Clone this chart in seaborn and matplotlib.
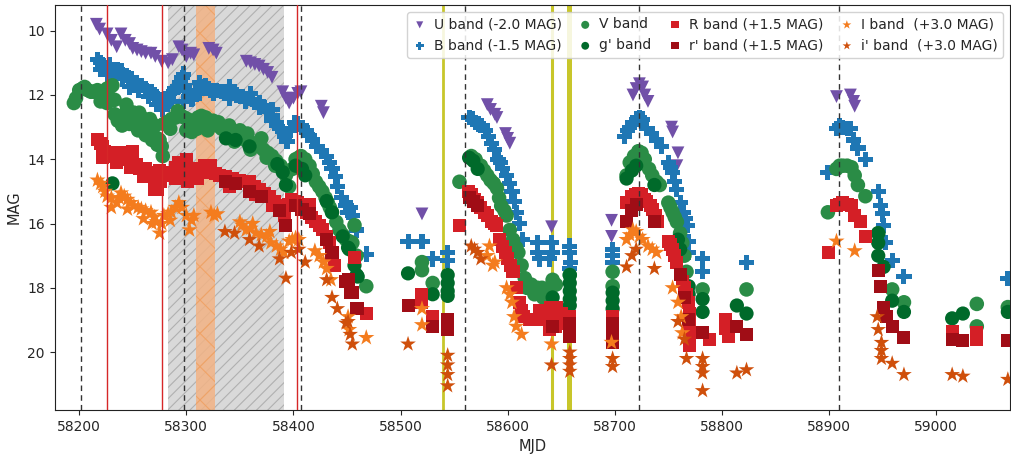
import matplotlib
matplotlib.use("Agg")
import matplotlib.pyplot as plt
import seaborn as sns
import pandas as pd

# Light-curve points per band as (MJD, plotted magnitude incl. offset)
u_pts = [(58216, 9.8), (58219, 9.95), (58226, 10.1), (58230, 10.3), (58235, 10.5), (58239, 10.1),
         (58243, 10.3), (58247, 10.4), (58250, 10.55), (58254, 10.6), (58258, 10.65), (58262, 10.7),
         (58267, 10.7), (58271, 10.8), (58277, 10.95), (58283, 11.0), (58287, 10.9), (58293, 10.5),
         (58296, 10.6), (58300, 10.8), (58304, 10.7), (58307, 10.75), (58321, 10.55), (58325, 10.6),
         (58328, 10.7), (58356, 10.95), (58360, 11.0), (58364, 11.05), (58368, 11.1), (58372, 11.2),
         (58376, 11.3), (58380, 11.45), (58390, 11.9), (58393, 12.1), (58396, 12.25), (58400, 12.1),
         (58404, 11.95), (58407, 11.9), (58426, 12.35), (58428, 12.55),
         (58520, 15.7), (58581, 12.3), (58584, 12.45), (58588, 12.6), (58590, 12.7), (58598, 13.2),
         (58600, 13.35), (58602, 13.5), (58641, 16.1), (58697, 15.9), (58697, 16.4),
         (58717, 12.0), (58720, 11.8), (58723, 11.65), (58726, 11.75), (58728, 12.0), (58731, 12.2),
         (58753, 13.0), (58754, 13.15), (58759, 13.8), (58758, 14.2),
         (58907, 12.05), (58920, 12.0), (58923, 12.2), (58924, 12.35)]

b_pts = [(58217, 10.9), (58220, 11.0), (58223, 11.1), (58226, 11.35), (58230, 11.3), (58233, 11.2),
         (58236, 11.2), (58239, 11.25), (58243, 11.4), (58246, 11.45), (58249, 11.5), (58253, 11.6),
         (58258, 11.7), (58262, 11.8), (58267, 11.9), (58270, 12.0), (58273, 12.1), (58276, 12.3),
         (58278, 12.45), (58281, 12.2), (58284, 11.95), (58288, 11.9), (58292, 11.75), (58294, 11.6),
         (58296, 11.45), (58298, 11.7), (58300, 11.85), (58303, 12.0), (58305, 12.15), (58309, 11.9),
         (58312, 11.6), (58314, 11.75), (58318, 11.7), (58321, 11.8), (58323, 11.85), (58328, 11.85),
         (58333, 11.9), (58337, 11.9), (58342, 11.95), (58347, 12.0), (58352, 12.05), (58357, 12.1),
         (58362, 12.15), (58368, 12.25), (58372, 12.35), (58376, 12.5), (58380, 12.65), (58384, 12.85),
         (58388, 13.05), (58390, 13.15), (58392, 13.3), (58394, 13.45), (58397, 13.1), (58401, 12.85),
         (58404, 12.9), (58408, 13.0), (58412, 13.1), (58415, 13.25), (58418, 13.4), (58422, 13.6),
         (58426, 13.75), (58431, 13.9), (58434, 14.1), (58436, 14.3), (58439, 14.55), (58441, 14.85),
         (58445, 15.2), (58449, 15.45), (58451, 15.65), (58453, 15.5), (58455, 15.75), (58459, 16.2),
         (58468, 16.95),
         (58220, 11.2), (58228, 11.05), (58240, 11.5), (58247, 11.75), (58255, 11.85), (58265, 12.05),
         (58272, 12.3), (58286, 12.2), (58297, 12.2), (58297, 11.35), (58306, 12.1), (58312, 11.95),
         (58325, 11.95), (58340, 12.1), (58355, 12.2), (58368, 12.4), (58380, 12.8), (58387, 13.05),
         (58340, 11.75), (58360, 11.95), (58380, 12.45),
         (58507, 16.55), (58520, 16.55), (58530, 17.1), (58544, 16.9), (58544, 17.15),
         (58564, 12.7), (58567, 12.75), (58570, 12.85), (58573, 12.9), (58576, 12.95), (58579, 13.1),
         (58582, 13.3), (58585, 13.5), (58588, 13.7), (58591, 14.0), (58593, 14.1), (58595, 14.3),
         (58599, 14.5), (58602, 14.75), (58604, 15.0), (58606, 15.3), (58608, 15.65), (58611, 16.0),
         (58614, 16.5), (58628, 16.6), (58628, 16.9), (58630, 17.1), (58639, 17.1), (58642, 16.9),
         (58641, 16.6), (58658, 16.7), (58658, 16.9), (58659, 17.2), (58658, 17.4),
         (58698, 16.8), (58698, 17.0), (58698, 17.2),
         (58709, 13.3), (58712, 13.1), (58714, 13.0), (58717, 12.85), (58720, 12.75), (58723, 12.7),
         (58726, 12.75), (58730, 13.05), (58734, 13.2), (58739, 13.4), (58744, 13.6), (58750, 14.1),
         (58752, 14.25), (58754, 14.4), (58756, 14.7), (58758, 14.95), (58761, 15.35), (58764, 15.65),
         (58766, 15.85), (58768, 16.05), (58769, 16.55), (58769, 16.9), (58782, 17.1), (58782, 17.5),
         (58823, 17.2),
         (58899, 14.4), (58907, 13.05), (58910, 12.95), (58913, 13.0), (58917, 13.05), (58920, 13.05),
         (58923, 13.4), (58927, 13.65), (58934, 14.0), (58946, 15.0), (58948, 15.45), (58950, 15.7),
         (58951, 16.05), (58953, 16.6), (58959, 17.15), (58970, 17.65), (59067, 17.7)]

v_pts = [(58195, 12.25), (58197, 12.1), (58200, 11.85), (58203, 11.8), (58205, 11.75), (58208, 11.85),
         (58211, 11.9), (58214, 11.9), (58217, 11.85), (58220, 12.2), (58222, 12.0), (58224, 11.9),
         (58226, 11.8), (58229, 11.75), (58231, 11.7), (58233, 12.15), (58233, 12.6), (58236, 12.8),
         (58239, 12.75), (58242, 12.6), (58245, 12.45), (58248, 12.7), (58251, 12.85), (58254, 12.9),
         (58258, 12.95), (58261, 13.05), (58264, 13.15), (58267, 13.2), (58270, 13.3), (58273, 13.35),
         (58275, 13.4), (58277, 13.6), (58278, 13.9), (58279, 12.9), (58282, 12.85), (58286, 12.75),
         (58290, 12.7), (58295, 12.65), (58298, 12.7), (58301, 12.75), (58303, 12.95), (58305, 13.15),
         (58308, 12.9), (58311, 12.7), (58314, 12.65), (58318, 12.7), (58321, 12.85), (58325, 12.8),
         (58329, 12.95), (58333, 13.05), (58337, 13.15), (58341, 13.2), (58346, 13.3), (58352, 13.35),
         (58357, 13.45), (58362, 13.5), (58368, 13.6), (58372, 13.7), (58376, 13.8), (58380, 13.9),
         (58384, 14.05), (58388, 14.2), (58391, 14.35), (58393, 14.5), (58396, 14.85), (58399, 14.3),
         (58402, 14.0), (58405, 13.95), (58407, 13.9), (58411, 14.0), (58415, 14.2), (58418, 14.45),
         (58421, 14.7), (58424, 14.85), (58427, 15.0), (58430, 15.2), (58432, 15.35), (58434, 15.5),
         (58436, 15.65), (58440, 15.95), (58443, 16.2), (58446, 16.35), (58449, 16.5), (58452, 16.55),
         (58455, 16.6), (58457, 16.05), (58459, 17.0), (58468, 17.95),
         (58240, 12.95), (58247, 12.9), (58255, 13.1), (58262, 13.25), (58268, 13.4), (58273, 13.55),
         (58244, 12.3), (58256, 12.55), (58266, 12.75), (58285, 13.05), (58292, 12.5), (58300, 13.1),
         (58320, 13.1), (58340, 12.95), (58345, 13.45), (58357, 13.2), (58360, 13.7), (58375, 13.95),
         (58383, 14.2), (58226, 12.25), (58251, 12.55), (58261, 12.75), (58271, 12.95), (58310, 13.05),
         (58330, 12.85), (58350, 13.1), (58370, 13.35),
         (58520, 17.2), (58520, 17.45), (58530, 17.85), (58555, 14.7), (58566, 13.9), (58570, 14.0),
         (58575, 14.2), (58578, 14.35), (58581, 14.5), (58584, 14.65), (58587, 14.75), (58590, 14.9),
         (58592, 15.2), (58594, 15.45), (58597, 15.6), (58599, 15.75), (58602, 16.2), (58605, 16.5),
         (58608, 16.75), (58610, 16.9), (58613, 17.3), (58616, 17.7), (58618, 18.0), (58622, 17.9),
         (58625, 18.2), (58628, 18.0), (58632, 18.0), (58633, 18.3), (58636, 18.1), (58639, 18.0),
         (58642, 17.75), (58645, 17.9), (58658, 17.6), (58698, 17.5), (58698, 17.95),
         (58711, 14.5), (58714, 14.1), (58718, 13.9), (58722, 13.75), (58725, 13.8), (58728, 14.0),
         (58732, 14.3), (58735, 14.5), (58739, 14.7), (58742, 14.8), (58750, 15.35), (58752, 15.5),
         (58754, 15.65), (58756, 15.8), (58758, 15.95), (58761, 16.3), (58763, 16.6), (58765, 17.0),
         (58767, 17.5), (58782, 18.05), (58823, 18.05),
         (58899, 15.65), (58907, 14.3), (58910, 14.2), (58913, 14.2), (58917, 14.2), (58921, 14.25),
         (58924, 14.5), (58927, 14.8), (58934, 15.15), (58946, 16.3), (58959, 18.05), (58970, 18.45),
         (59038, 18.5), (59038, 19.2), (59067, 18.6)]

gp_pts = [(58231, 14.75), (58337, 13.35), (58346, 13.4), (58359, 13.6), (58385, 14.15), (58390, 14.4),
          (58393, 14.8), (58402, 14.2), (58408, 14.3), (58411, 14.5), (58431, 15.3), (58436, 15.65),
          (58446, 16.4), (58451, 16.75), (58452, 16.8), (58457, 17.3), (58459, 17.6), (58460, 17.65),
          (58507, 17.55), (58530, 18.2), (58544, 17.6), (58544, 17.85), (58544, 18.1), (58544, 18.25),
          (58564, 13.95), (58568, 14.05), (58572, 14.3), (58642, 18.3),
          (58658, 17.6), (58658, 17.85), (58658, 18.1), (58658, 18.35), (58658, 18.55),
          (58698, 18.15), (58698, 18.4), (58698, 18.65), (58711, 14.6), (58716, 14.35), (58720, 14.2),
          (58737, 14.8), (58759, 16.5), (58761, 16.8), (58769, 17.95), (58769, 18.2), (58782, 18.35),
          (58782, 18.75), (58814, 18.55), (58823, 18.8), (58946, 16.3), (58946, 16.6), (58946, 17.0),
          (58951, 17.35), (58959, 18.4), (58970, 18.75), (59015, 18.95), (59025, 18.8), (59067, 18.75)]

r_pts = [(58217, 13.4), (58220, 13.5), (58222, 13.6), (58224, 13.75), (58226, 13.9), (58230, 13.85),
         (58233, 13.8), (58236, 13.9), (58239, 14.0), (58242, 13.9), (58244, 13.8), (58247, 13.9),
         (58250, 14.0), (58253, 14.15), (58256, 14.3), (58259, 14.3), (58262, 14.3), (58265, 14.4),
         (58268, 14.5), (58270, 14.7), (58273, 14.95), (58276, 14.7), (58279, 14.5), (58282, 14.45),
         (58286, 14.4), (58290, 14.25), (58293, 14.1), (58296, 14.35), (58298, 14.55), (58301, 14.7),
         (58304, 14.5), (58307, 14.3), (58312, 14.3), (58317, 14.2), (58321, 14.4), (58323, 14.2),
         (58327, 14.45), (58331, 14.5), (58337, 14.55), (58343, 14.6), (58350, 14.65), (58355, 14.7),
         (58359, 14.7), (58364, 14.85), (58368, 14.95), (58373, 15.05), (58378, 15.15), (58382, 15.3),
         (58385, 15.45), (58389, 15.6), (58392, 15.75), (58395, 15.4), (58398, 15.25), (58401, 15.3),
         (58404, 15.35), (58408, 15.5), (58412, 15.65), (58417, 15.8), (58421, 15.95), (58424, 16.05),
         (58427, 16.2), (58431, 16.4), (58434, 16.6), (58436, 17.0), (58438, 17.3), (58457, 17.05),
         (58468, 18.8),
         (58222, 13.95), (58235, 14.1), (58248, 14.25), (58260, 14.55), (58270, 14.95), (58275, 14.35),
         (58300, 14.0), (58290, 14.6), (58310, 14.6), (58340, 14.85), (58365, 15.1), (58380, 15.45),
         (58415, 15.4), (58250, 13.75),
         (58520, 18.2), (58520, 18.45), (58530, 18.9), (58555, 16.05), (58563, 15.0), (58566, 15.1),
         (58569, 15.25), (58572, 15.35), (58575, 15.5), (58578, 15.65), (58581, 15.75), (58585, 15.95),
         (58588, 16.0), (58590, 16.05), (58592, 16.5), (58595, 16.7), (58598, 16.9), (58600, 17.1),
         (58603, 17.3), (58605, 17.5), (58608, 18.0), (58611, 18.45), (58613, 18.7), (58615, 18.9),
         (58620, 19.0), (58627, 19.0), (58630, 18.7), (58632, 19.0), (58636, 19.0), (58639, 19.3),
         (58640, 18.6), (58642, 18.8), (58644, 18.7), (58645, 19.2), (58646, 18.6), (58648, 19.1),
         (58650, 18.8), (58658, 18.9), (58698, 18.9),
         (58711, 15.35), (58716, 15.15), (58719, 15.1), (58722, 15.05), (58725, 15.1), (58728, 15.25),
         (58730, 15.3), (58733, 15.45), (58735, 15.55), (58738, 15.75), (58740, 15.95), (58750, 16.55),
         (58752, 16.65), (58754, 16.8), (58756, 17.0), (58758, 17.2), (58761, 17.6), (58763, 17.8),
         (58765, 18.0), (58767, 18.2), (58769, 18.45), (58770, 18.8), (58770, 19.2), (58770, 19.5),
         (58770, 19.8), (58782, 19.4), (58788, 19.6), (58803, 19.0), (58803, 19.25), (58806, 19.5),
         (58814, 19.2),
         (58900, 16.9), (58907, 15.45), (58910, 15.4), (58913, 15.35), (58917, 15.4), (58921, 15.45),
         (58924, 15.75), (58929, 15.95), (58934, 16.4), (59015, 19.35), (59038, 19.4), (59038, 19.6)]

rp_pts = [(58337, 14.7), (58346, 14.75), (58359, 15.0), (58370, 15.15), (58387, 15.6), (58393, 16.05),
          (58402, 15.45), (58408, 15.55), (58415, 15.7), (58431, 16.5), (58436, 16.9), (58449, 17.8),
          (58451, 17.75), (58453, 18.15), (58455, 18.15), (58459, 18.65), (58460, 18.65),
          (58507, 18.55), (58530, 19.2), (58544, 19.0), (58544, 19.3), (58564, 15.2), (58568, 15.3),
          (58572, 15.45), (58642, 19.2), (58658, 19.1), (58658, 19.3), (58658, 19.5),
          (58698, 19.1), (58698, 19.4), (58698, 19.7), (58711, 15.95), (58716, 15.6), (58720, 15.4),
          (58737, 15.95), (58761, 17.6), (58765, 18.3), (58769, 19.0), (58782, 19.4), (58814, 19.2),
          (58823, 19.45), (58946, 17.45), (58948, 17.95), (58951, 18.6), (58954, 18.9), (58959, 19.2),
          (58970, 19.55), (59015, 19.6), (59025, 19.65), (59067, 19.65)]

i_pts = [(58217, 14.65), (58220, 14.75), (58222, 14.85), (58224, 15.0), (58226, 15.15), (58230, 15.2),
         (58235, 15.35), (58237, 15.2), (58239, 15.05), (58242, 15.15), (58245, 15.25), (58248, 15.35),
         (58251, 15.45), (58255, 15.5), (58258, 15.55), (58262, 15.6), (58267, 15.65), (58270, 15.8),
         (58272, 15.95), (58275, 16.3), (58277, 16.0), (58279, 15.75), (58283, 15.7), (58286, 15.65),
         (58290, 15.5), (58293, 15.35), (58296, 15.5), (58300, 15.75), (58303, 16.2), (58305, 15.9),
         (58307, 15.75), (58323, 15.65), (58326, 15.75), (58329, 15.7), (58350, 15.95), (58352, 16.05),
         (58356, 16.2), (58360, 16.15), (58365, 16.3), (58370, 16.35), (58375, 16.4), (58379, 16.6),
         (58384, 16.7), (58388, 16.8), (58396, 16.55), (58399, 16.5), (58402, 16.45), (58405, 16.5),
         (58420, 16.85), (58424, 17.0), (58428, 17.2), (58431, 17.4), (58435, 17.75), (58451, 18.9),
         (58452, 19.3), (58468, 19.55),
         (58230, 15.5), (58245, 15.55), (58260, 15.85), (58268, 16.0), (58285, 15.9), (58362, 16.0),
         (58378, 16.25), (58391, 16.9),
         (58520, 18.65), (58520, 19.15), (58581, 17.0), (58583, 16.7), (58586, 17.3), (58588, 17.2),
         (58599, 18.0), (58602, 18.2), (58604, 18.45), (58606, 18.9), (58608, 19.2), (58613, 19.45),
         (58641, 19.75), (58697, 19.7), (58711, 16.5), (58714, 16.35), (58717, 16.2), (58720, 16.25),
         (58723, 16.4), (58726, 16.5), (58731, 16.7), (58735, 16.8), (58739, 16.9), (58754, 18.0),
         (58759, 18.45), (58762, 18.9), (58763, 19.4), (58907, 16.55), (58924, 16.85)]

ip_pts = [(58336, 16.25), (58345, 16.3), (58359, 16.5), (58368, 16.7), (58387, 17.1), (58393, 17.7),
          (58398, 16.9), (58405, 16.8), (58411, 17.2), (58431, 17.75), (58436, 18.3), (58441, 18.65),
          (58449, 19.1), (58451, 19.05), (58453, 19.45), (58455, 19.75),
          (58507, 19.75), (58544, 20.1), (58544, 20.4), (58544, 20.7), (58544, 21.05),
          (58566, 16.7), (58569, 16.8), (58572, 16.9), (58575, 17.1), (58641, 20.4),
          (58658, 20.0), (58658, 20.2), (58658, 20.4), (58658, 20.6), (58698, 20.2), (58698, 20.45),
          (58711, 17.35), (58716, 17.0), (58720, 16.8), (58737, 17.4), (58759, 19.05), (58765, 19.6),
          (58767, 20.2), (58782, 20.2), (58782, 20.45), (58782, 20.65), (58782, 21.2), (58814, 20.65),
          (58823, 20.55), (58945, 18.9), (58946, 19.3), (58949, 19.7), (58949, 19.95), (58949, 20.2),
          (58959, 20.35), (58970, 20.7), (59015, 20.7), (59025, 20.75), (59067, 20.85)]

band_labels = ["U band (-2.0 MAG)", "B band (-1.5 MAG)", "V band", "g' band",
               "R band (+1.5 MAG)", "r' band (+1.5 MAG)", "I band  (+3.0 MAG)", "i' band  (+3.0 MAG)"]

# Reference epochs marked on the light curve
dashed_epochs = [58202, 58298, 58407, 58560, 58723, 58909]
red_epochs = [58226, 58277, 58403]
olive_epochs = [58540, 58641, 58657]
olive_widths = [2.0, 2.2, 3.6]
gray_window = (58283, 58391)
orange_window = (58309, 58327)

sns.set_style("ticks")
plt.rcParams["font.family"] = ["DejaVu Sans"]
plt.rcParams["hatch.linewidth"] = 0.8

fig = plt.figure(figsize=(10.11, 4.54), dpi=100)
ax = fig.add_axes([0.054, 0.097, 0.945, 0.892])

ax.axvspan(*gray_window, facecolor="#d9d9d9", edgecolor="#b0b0b0", hatch="///",
           linewidth=0.0, zorder=0)
ax.axvspan(*orange_window, facecolor="#f2b385", edgecolor="#f0a060", hatch="x",
           alpha=0.85, linewidth=0.0, zorder=0.5)
for m, w in zip(olive_epochs, olive_widths):
    ax.axvline(m, color="#c8c62a", lw=w, zorder=1)

styles = [
    (u_pts, "v", "#7150a8", 85),
    (b_pts, "P", "#1f77b4", 120),
    (v_pts, "o", "#2a8c46", 110),
    (gp_pts, "o", "#006a2a", 105),
    (r_pts, "s", "#d41f26", 88),
    (rp_pts, "s", "#a00d16", 88),
    (i_pts, "*", "#f47c1e", 150),
    (ip_pts, "*", "#cf4f0b", 140),
]

for (pts, mk, col, size), lab in zip(styles, band_labels):
    df = pd.DataFrame(pts, columns=["MJD", "MAG"])
    sns.scatterplot(data=df, x="MJD", y="MAG", marker=mk, color=col, s=size,
                    edgecolor="none", linewidth=0, label=lab, ax=ax, zorder=3)

for m in dashed_epochs:
    ax.axvline(m, color="#333333", lw=1.0, ls=(0, (4, 3)), zorder=4)
for m in red_epochs:
    ax.axvline(m, color="#d62728", lw=1.0, zorder=4)

ax.set_xlim(58177, 59069)
ax.set_ylim(21.8, 9.2)
ax.set_xticks(range(58200, 59001, 100))
ax.set_yticks(range(10, 21, 2))
ax.tick_params(labelsize=10)
ax.set_xlabel("MJD", fontsize=10.5)
ax.set_ylabel("MAG", fontsize=10.5)
for sp in ax.spines.values():
    sp.set_color("#222222")

leg = ax.legend(loc="upper right", ncol=4, fontsize=10, markerscale=0.55,
                handletextpad=0.5, columnspacing=1.2, handlelength=1.0,
                borderaxespad=0.5, framealpha=0.85, edgecolor="#cccccc")
leg.set_zorder(10)

fig.savefig("out.png", dpi=100)
